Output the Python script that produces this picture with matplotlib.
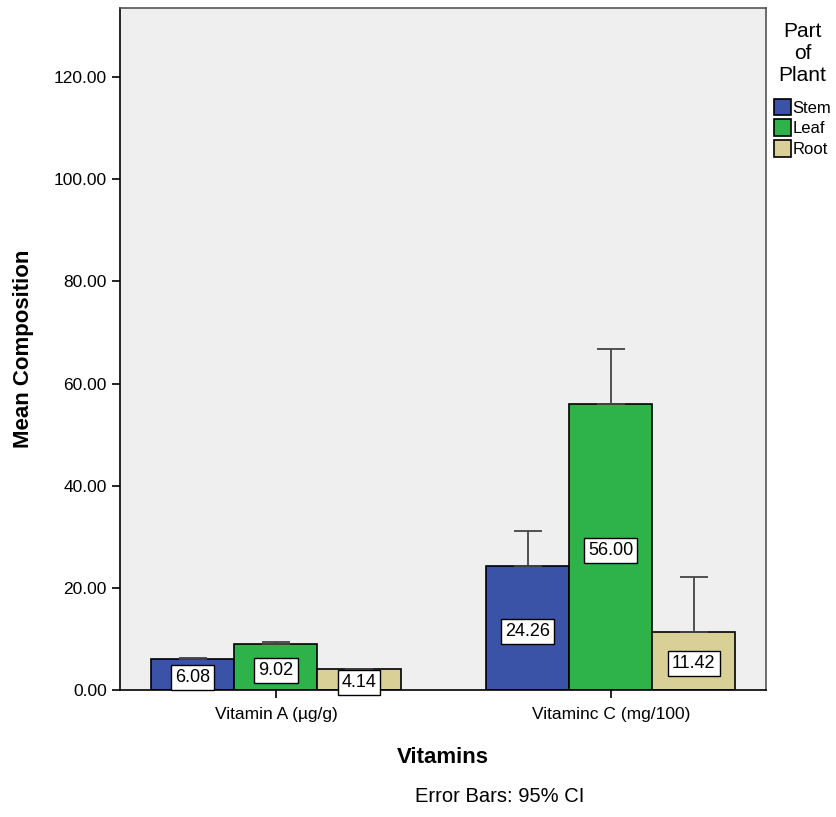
import matplotlib.pyplot as plt
import numpy as np

# mean composition by vitamin and part of plant
vitamins = ['Vitamin A (µg/g)', 'Vitaminc C (mg/100)']
parts = ['Stem', 'Leaf', 'Root']
means = {
    'Stem': [6.08, 24.26],
    'Leaf': [9.02, 56.00],
    'Root': [4.14, 11.42],
}
# upper ends of the 95% CI bars
ci_upper = {
    'Stem': [6.35, 31.1],
    'Leaf': [9.35, 66.7],
    'Root': [4.2, 22.1],
}
colors = {'Stem': '#3A53A6', 'Leaf': '#2EB34A', 'Root': '#D8D096'}


def main():
    plt.rcParams['font.family'] = ['Liberation Sans', 'DejaVu Sans']
    fig = plt.figure(figsize=(8.36, 8.17), dpi=100)
    ax = fig.add_axes([0.1435, 0.1554, 0.7725, 0.8346])
    ax.set_facecolor('#EFEFEF')

    x = np.arange(len(vitamins))
    width = 0.248
    for i, part in enumerate(parts):
        pos = x + (i - 1) * width
        vals = np.array(means[part])
        up = np.array(ci_upper[part]) - vals
        ax.bar(pos, vals, width, color=colors[part], edgecolor='black',
               linewidth=1.2, label=part, zorder=2)
        ax.errorbar(pos, vals, yerr=[np.zeros_like(up), up], fmt='none',
                    ecolor='#444444', elinewidth=1.3, capsize=10, capthick=1.3, zorder=3)
        for p, v in zip(pos, vals):
            ax.text(p, v / 2 - 0.6, f'{v:.2f}', ha='center', va='center', fontsize=13,
                    zorder=4, bbox=dict(boxstyle='square,pad=0.22', fc='white', ec='black', lw=1))

    ax.set_xlim(-0.466, 1.463)
    ax.set_ylim(0, 133.5)
    ax.set_yticks(np.arange(0, 121, 20))
    ax.set_yticklabels([f'{t:.2f}' for t in np.arange(0, 121, 20)])
    ax.set_xticks(x)
    ax.set_xticklabels(vitamins)
    ax.tick_params(axis='both', labelsize=12.5, length=6, width=1.2, direction='out')
    ax.tick_params(axis='x', pad=6)

    for s in ['left', 'bottom']:
        ax.spines[s].set_color('black')
        ax.spines[s].set_linewidth(1.2)
    for s in ['top', 'right']:
        ax.spines[s].set_color('#555555')
        ax.spines[s].set_linewidth(1.2)

    ax.set_xlabel('Vitamins', fontsize=16, fontweight='bold', labelpad=18)
    ax.set_ylabel('Mean Composition', fontsize=16, fontweight='bold', labelpad=14)

    leg = ax.legend(title='Part\nof\nPlant', loc='upper left', bbox_to_anchor=(1.0, 0.992),
                    frameon=False, fontsize=12, title_fontsize=15, handlelength=1.0,
                    handleheight=1.15, handletextpad=0.1, labelspacing=0.22,
                    borderaxespad=0.3, borderpad=0.2)
    leg.get_title().set_multialignment('center')
    leg._legend_box.sep = 10

    fig.text(0.598, 0.013, 'Error Bars: 95% CI', ha='center', va='bottom', fontsize=14.5)

    fig.savefig('out.png', dpi=100, facecolor='white')


if __name__ == '__main__':
    main()
